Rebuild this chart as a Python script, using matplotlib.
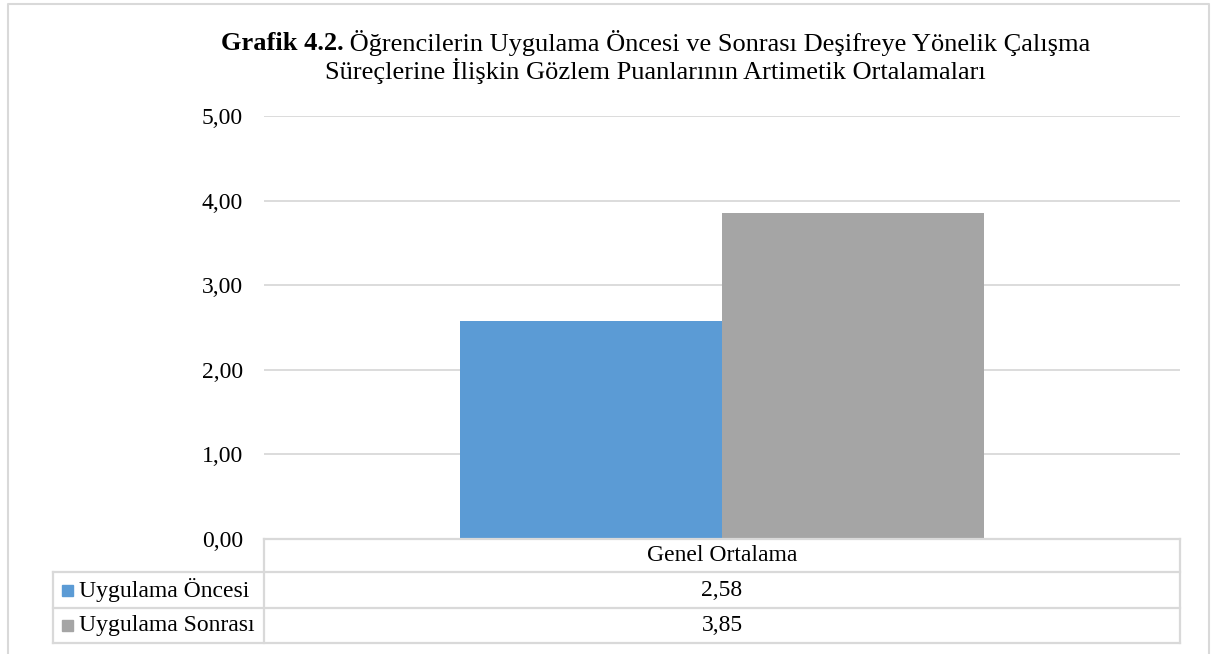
import matplotlib
matplotlib.use('Agg')
import matplotlib.pyplot as plt
from matplotlib.lines import Line2D
from matplotlib.patches import Rectangle
import matplotlib.transforms as mtransforms

categories = ['Genel Ortalama']
series_names = ['Uygulama Öncesi', 'Uygulama Sonrası']
series_values = [[2.58], [3.85]]
series_labels = [['2,58'], ['3,85']]
series_colors = ['#5B9BD5', '#A5A5A5']
yticks = [0, 1, 2, 3, 4, 5]
ytick_labels = ['0,00', '1,00', '2,00', '3,00', '4,00', '5,00']
title_bold = 'Grafik 4.2.'
title_line1 = ' Öğrencilerin Uygulama Öncesi ve Sonrası Deşifreye Yönelik Çalışma'
title_line2 = 'Süreçlerine İlişkin Gözlem Puanlarının Artimetik Ortalamaları'

plt.rcParams['font.family'] = ['Liberation Serif', 'DejaVu Serif']
W, H = 1211, 654
fig = plt.figure(figsize=(W / 100, H / 100), dpi=100)
FS = 17
TFS = 19
GRID = '#d9d9d9'


def fx(px):
    return px / W


def fy(py):
    return 1 - py / H


# outer chart border
fig.add_artist(Line2D([fx(8), fx(8), fx(1209), fx(1209)], [0, fy(4), fy(4), 0],
                      transform=fig.transFigure, color=GRID, lw=1.5))

ax = fig.add_axes([fx(264), fy(539), fx(1180) - fx(264), fy(116) - fy(539)])
n = len(series_values)
bw = 0.286
for i, vals in enumerate(series_values):
    off = (i - (n - 1) / 2) * bw
    ax.bar([j + off for j in range(len(categories))], vals, width=bw,
           color=series_colors[i], zorder=2)
ax.set_xlim(-0.5, len(categories) - 0.5)
ax.set_ylim(0, 5)
ax.set_yticks(yticks)
ax.set_yticklabels(ytick_labels, fontsize=FS)
ax.tick_params(axis='y', length=0, pad=15)
ax.set_xticks([])
ax.grid(axis='y', color=GRID, lw=1.3, zorder=0)
ax.set_axisbelow(True)
for s in ax.spines.values():
    s.set_visible(False)

# data table
tl = dict(transform=fig.transFigure, color=GRID, lw=1.6, clip_on=False)
rows_y = [539, 572, 608, 643]
fig.add_artist(Line2D([fx(264), fx(1180)], [fy(rows_y[0])] * 2, **tl))
for yy in rows_y[1:]:
    fig.add_artist(Line2D([fx(53), fx(1180)], [fy(yy)] * 2, **tl))
fig.add_artist(Line2D([fx(53)] * 2, [fy(572), fy(643)], **tl))
fig.add_artist(Line2D([fx(264)] * 2, [fy(539), fy(643)], **tl))
fig.add_artist(Line2D([fx(1180)] * 2, [fy(539), fy(643)], **tl))

blend = mtransforms.blended_transform_factory(ax.transData, fig.transFigure)
for j, c in enumerate(categories):
    ax.text(j, fy((rows_y[0] + rows_y[1]) / 2), c, transform=blend,
            ha='center', va='center', fontsize=FS)
for i, name in enumerate(series_names):
    yc = (rows_y[i + 1] + rows_y[i + 2]) / 2
    fig.add_artist(Rectangle((fx(62), fy(yc + 5.5)), fx(11), 11 / H,
                             transform=fig.transFigure, color=series_colors[i]))
    fig.text(fx(79), fy(yc), name, ha='left', va='center', fontsize=FS)
    for j in range(len(categories)):
        ax.text(j, fy(yc), series_labels[i][j], transform=blend,
                ha='center', va='center', fontsize=FS)

# title
fig.canvas.draw()
r = fig.canvas.get_renderer()
tb = fig.text(0, fy(43), title_bold, fontweight='bold', fontsize=TFS, va='center')
tr = fig.text(0, fy(43), title_line1, fontsize=TFS, va='center')
wb = tb.get_window_extent(r).width
wr = tr.get_window_extent(r).width
x0 = 655.5 - (wb + wr) / 2
tb.set_x(fx(x0))
tr.set_x(fx(x0 + wb))
fig.text(fx(655.5), fy(71), title_line2, fontsize=TFS, ha='center', va='center')

fig.savefig('out.png', dpi=100)
